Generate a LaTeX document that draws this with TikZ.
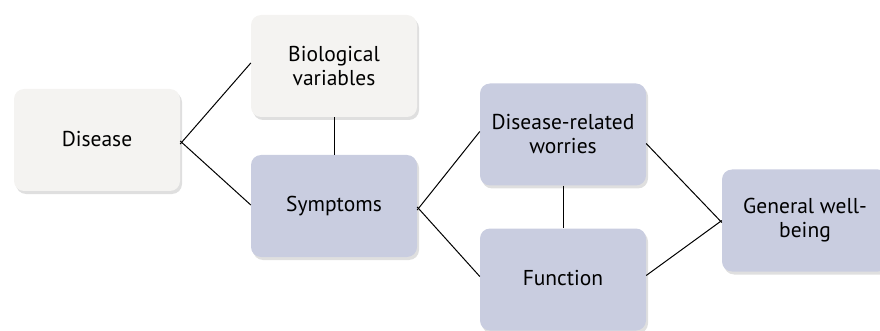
\documentclass[tikz,border=0pt]{standalone}
\usepackage{fontspec}
\setmainfont{PT Sans}
\usetikzlibrary{shadows,calc}
\definecolor{boxgray}{HTML}{F4F3F1}
\definecolor{boxblue}{HTML}{C9CDE0}
\tikzset{
  box/.style={rounded corners=10pt, minimum width=166pt, minimum height=102pt,
    inner sep=0pt, align=center, font=\fontsize{21.5}{24}\selectfont,
    drop shadow={opacity=0.25, shadow xshift=2pt, shadow yshift=-3pt}},
  graybox/.style={box, fill=boxgray},
  bluebox/.style={box, fill=boxblue},
  link/.style={draw=black, line width=1pt}
}
\begin{document}
\begin{tikzpicture}[x=1pt,y=-1pt]
\useasboundingbox (0,0) rectangle (880,331);
\begin{scope}
\clip (0,0) rectangle (880,331);
\node[graybox] (dis) at (97,140) {\raisebox{3pt}{Disease}};
\node[graybox] (bio) at (334,66) {Biological\\variables};
\node[bluebox] (sym) at (334,206) {\raisebox{4pt}{Symptoms}};
\node[bluebox] (drw) at (563,134.5) {Disease-related\\worries};
\node[bluebox] (fun) at (563,279.5) {\raisebox{4pt}{Function}};
\node[bluebox] (gwb) at (805,220.5) {General well-\\being};
\end{scope}
\draw[link] ([yshift=-4pt]dis.east) -- ([yshift=3pt]bio.west);
\draw[link] ([yshift=-1pt]dis.east) -- ([yshift=1pt]sym.west);
\draw[link] (bio.south) -- (sym.north);
\draw[link] ([yshift=-4pt]sym.east) -- ([yshift=3pt]drw.west);
\draw[link] ([yshift=-1pt]sym.east) -- ([yshift=3pt]fun.west);
\draw[link] (drw.south) -- (fun.north);
\draw[link] ([yshift=-9pt]drw.east) -- ([yshift=-2pt]gwb.west);
\draw[link] ([yshift=4pt]fun.east) -- ([yshift=0pt]gwb.west);
\end{tikzpicture}
\end{document}
